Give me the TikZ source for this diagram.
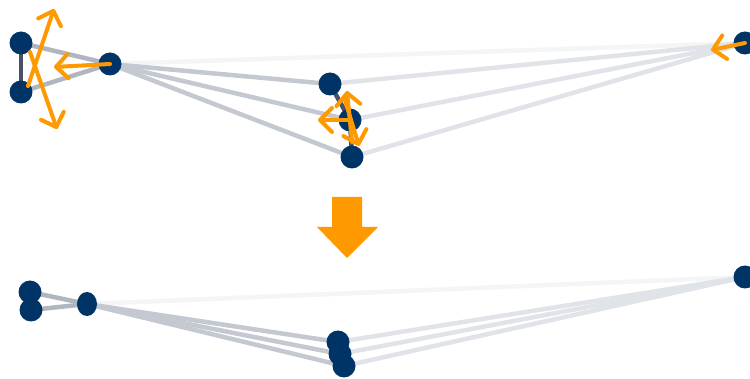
\documentclass[tikz,border=0pt]{standalone}
\usetikzlibrary{arrows.meta,shapes.geometric}
\definecolor{navy}{RGB}{0,52,102}
\definecolor{orng}{RGB}{255,153,0}
\definecolor{edgegray}{RGB}{196,200,208}
\definecolor{edgeleft}{RGB}{176,182,192}
\definecolor{edgelight}{RGB}{224,227,232}
\definecolor{edgefaint}{RGB}{244,245,246}
\definecolor{edgedark}{RGB}{72,82,100}
\begin{document}
\begin{tikzpicture}[x=1pt,y=-1pt,
  pt/.style={circle,fill=navy,inner sep=0pt,minimum size=23pt},
  ed/.style={draw=edgegray,line width=4.5pt},
  edk/.style={draw=edgeleft,line width=4.5pt},
  edl/.style={draw=edgelight,line width=4.5pt},
  edf/.style={draw=edgefaint,line width=4.5pt},
  edd/.style={draw=edgedark,line width=4.5pt},
  mv/.style={draw=orng,line width=4pt,line cap=round,-{Straight Barb[length=12pt,width=24pt,line cap=round,line join=round]}}]
\useasboundingbox (0,0) rectangle (750,379);
% top coordinates
\coordinate (A) at (21,43);
\coordinate (B) at (21,92);
\coordinate (C) at (110,64);
\coordinate (D) at (330,84);
\coordinate (E) at (350,120);
\coordinate (F) at (352,157);
\coordinate (G) at (745,43);
% top edges
\draw[edf] (C) -- (G);
\draw[edl] (D) -- (G);
\draw[edl] (E) -- (G);
\draw[edl] (F) -- (G);
\draw[edk] (A) -- (C);
\draw[edk] (B) -- (C);
\draw[ed] (C) -- (D);
\draw[ed] (C) -- (E);
\draw[ed] (C) -- (F);
\draw[edd] (A) -- (B);
\draw[edd] (D) -- (E);
\draw[edd] (E) -- (F);
% top nodes
\node[pt] (nA) at (A) {};
\node[pt] (nB) at (B) {};
\node[pt] (nC) at (C) {};
\node[pt] (nD) at (D) {};
\node[pt] (nE) at (E) {};
\node[pt] (nF) at (F) {};
\node[pt] (nG) at (G) {};
% arrows
\coordinate (a1s) at (28,86);
\coordinate (a1e) at (54,9);
\coordinate (a2s) at (30,52);
\coordinate (a2e) at (57,129);
\coordinate (a3e) at (54,67);
\coordinate (a4s) at (352,142);
\coordinate (a4e) at (347,91);
\coordinate (a5s) at (344,97);
\coordinate (a5e) at (359,146);
\coordinate (a6e) at (318,120);
\coordinate (a7e) at (711,50);
\draw[mv] (a1s) -- (a1e);
\draw[mv] (a2s) -- (a2e);
\draw[mv] (C) -- (a3e);
\draw[mv] (a4s) -- (a4e);
\draw[mv] (a5s) -- (a5e);
\draw[mv] (E) -- (a6e);
\draw[mv] (G) -- (a7e);
% big arrow
\fill[orng] (332,197) -- (362,197) -- (362,227) -- (378,227) -- (347,258) -- (317,227) -- (332,227) -- cycle;
% bottom coordinates
\coordinate (A2) at (30,292);
\coordinate (B2) at (31,310);
\coordinate (C2) at (87,304);
\coordinate (D2) at (338,342);
\coordinate (E2) at (340,354);
\coordinate (F2) at (344,366);
\coordinate (G2) at (745,277);
\draw[edf] (C2) -- (G2);
\draw[edl] (D2) -- (G2);
\draw[edl] (E2) -- (G2);
\draw[edl] (F2) -- (G2);
\draw[edk] (A2) -- (C2);
\draw[edk] (B2) -- (C2);
\draw[ed] (C2) -- (D2);
\draw[ed] (C2) -- (E2);
\draw[ed] (C2) -- (F2);
\draw[edd] (A2) -- (B2);
\node[pt] (nA2) at (A2) {};
\node[pt] (nB2) at (B2) {};
\node[pt,ellipse,minimum width=20pt,minimum height=24pt] (nC2) at (C2) {};
\node[pt] (nD2) at (D2) {};
\node[pt] (nE2) at (E2) {};
\node[pt] (nF2) at (F2) {};
\node[pt] (nG2) at (G2) {};
\end{tikzpicture}
\end{document}
